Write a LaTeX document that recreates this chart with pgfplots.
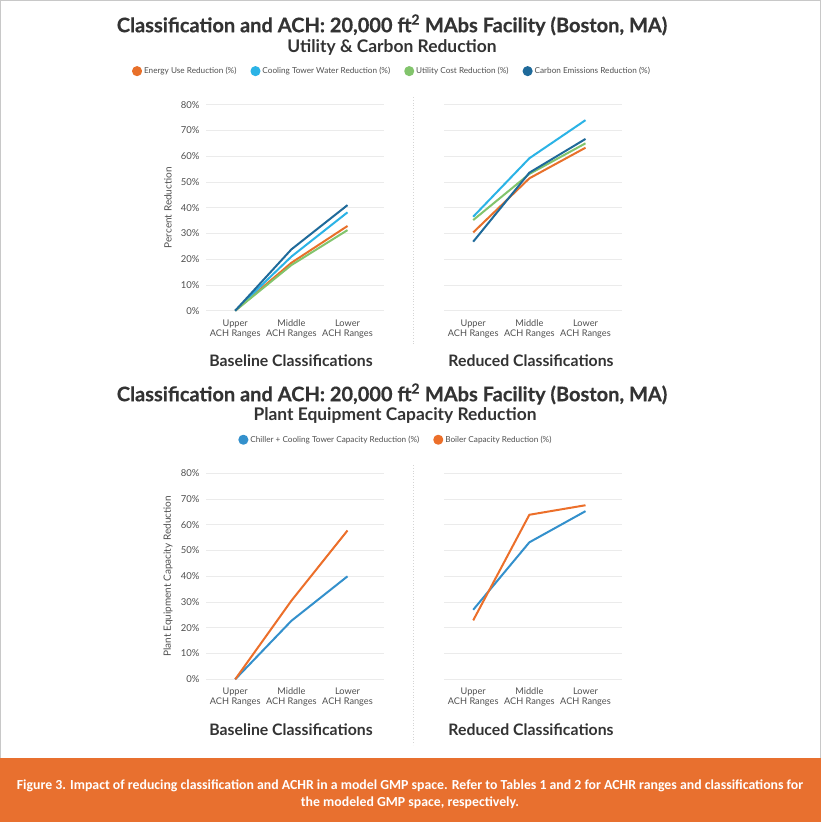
\documentclass[border=0pt]{standalone}
\usepackage{fontspec}
\setmainfont{Lato}
\newfontfamily\titlefont{Lato}[FakeBold=0.5]
\newfontfamily\capfont{Carlito}
\usepackage{pgfplots}
\pgfplotsset{compat=1.18}

\definecolor{energy}{HTML}{E8702A}
\definecolor{cooling}{HTML}{2BB3E6}
\definecolor{utility}{HTML}{82C46C}
\definecolor{carbon}{HTML}{1F6A9A}
\definecolor{chiller}{HTML}{3390CC}
\definecolor{boiler}{HTML}{EC6F2A}
\definecolor{capbar}{HTML}{E8702F}
\definecolor{gridgray}{HTML}{EBEBEB}
\definecolor{ticktext}{HTML}{505050}
\definecolor{titletext}{HTML}{333333}
\definecolor{bordergray}{HTML}{C8C8C8}

\pgfplotsset{
 panel/.style={
  scale only axis, width=178pt, height=206pt,
  xmin=-0.52, xmax=2.65, ymin=0, ymax=80,
  axis line style={draw=none},
  ymajorgrids, grid style={color=gridgray, line width=0.7pt},
  major tick length=0pt,
  xtick={0,1,2},
  xticklabels={{\strut Upper\\ACH Ranges}, {\strut Middle\\ACH Ranges}, {\strut Lower\\ACH Ranges}},
  xticklabel style={align=center, font=\fontsize{9.2}{10}\selectfont, text=ticktext, anchor=north, yshift=-5pt},
  ytick={0,10,...,80},
  yticklabel style={font=\fontsize{9.5}{10}\selectfont, text=ticktext, xshift=-3pt},
  /pgf/number format/assume math mode=true,
  clip=false,
  every axis plot/.append style={line width=2pt, line join=round, mark=none},
  legend image code/.code={\fill[##1] (2pt,0pt) circle (4pt);},
 },
 leftpanel/.style={panel,
  yticklabel={\pgfmathprintnumber{\tick}\%},
  every axis y label/.style={at={(axis description cs:-0.2135,0.5)}, rotate=90, anchor=center, font=\fontsize{10}{11}\selectfont, text=ticktext},
 },
 rightpanel/.style={panel, yticklabels={}},
}

\begin{document}
\begin{tikzpicture}
\useasboundingbox (0,0) rectangle (821pt,-822pt);
\fill[white] (0,0) rectangle (821pt,-822pt);
\fill[capbar] (0,-758pt) rectangle (821pt,-822pt);
\draw[bordergray, line width=1pt] (0.5pt,-758pt) -- (0.5pt,-0.5pt) -- (820.5pt,-0.5pt) -- (820.5pt,-758pt);

% ---- top panel titles
\node[font=\titlefont\bfseries\fontsize{20}{24}\selectfont, text=titletext] at (392pt,-25pt) {Classification and ACH: 20,000 ft\textsuperscript{2} MAbs Facility (Boston, MA)};
\node[font=\bfseries\fontsize{17.4}{20}\selectfont, text=titletext] at (392pt,-47pt) {Utility \& Carbon Reduction};

\begin{axis}[leftpanel, at={(206pt,-310.7pt)}, anchor=south west,
  ylabel={Percent Reduction},
  legend style={at={(axis description cs:1.045,1.163)}, anchor=center, draw=none, fill=none,
    legend columns=4, font=\fontsize{8.2}{9}\selectfont, text=ticktext,
    /tikz/every even column/.append style={column sep=12pt}},
  ]
\addplot[energy] coordinates {(0,0) (1,18.6) (2,32.9)};
\addlegendentry{Energy Use Reduction (\%)}
\addplot[cooling] coordinates {(0,0) (1,21.0) (2,38.2)};
\addlegendentry{Cooling Tower Water Reduction (\%)}
\addplot[utility] coordinates {(0,0) (1,17.7) (2,31.3)};
\addlegendentry{Utility Cost Reduction (\%)}
\addplot[carbon] coordinates {(0,0) (1,23.8) (2,41.0)};
\addlegendentry{Carbon Emissions Reduction (\%)}
\end{axis}

\begin{axis}[rightpanel, at={(444pt,-310.7pt)}, anchor=south west]
\addplot[energy] coordinates {(0,30.4) (1,51.4) (2,63.3)};
\addplot[cooling] coordinates {(0,36.5) (1,59.2) (2,74.0)};
\addplot[utility] coordinates {(0,35.2) (1,53.1) (2,65.0)};
\addplot[carbon] coordinates {(0,26.8) (1,53.6) (2,66.7)};
\end{axis}

\draw[gridgray!80!gray, line width=0.8pt, dotted] (413pt,-97pt) -- (413pt,-345pt);
\node[font=\bfseries\fontsize{15.8}{18}\selectfont, text=titletext] at (291pt,-361pt) {Baseline Classifications};
\node[font=\bfseries\fontsize{15.8}{18}\selectfont, text=titletext] at (531pt,-361pt) {Reduced Classifications};

% ---- bottom panel titles
\node[font=\titlefont\bfseries\fontsize{20}{24}\selectfont, text=titletext] at (392pt,-394pt) {Classification and ACH: 20,000 ft\textsuperscript{2} MAbs Facility (Boston, MA)};
\node[font=\bfseries\fontsize{17.4}{20}\selectfont, text=titletext] at (395pt,-415pt) {Plant Equipment Capacity Reduction};

\begin{axis}[leftpanel, at={(206pt,-679.3pt)}, anchor=south west,
  ylabel={Plant Equipment Capacity Reduction},
  legend style={at={(axis description cs:1.067,1.163)}, anchor=center, draw=none, fill=none,
    legend columns=2, font=\fontsize{8.2}{9}\selectfont, text=ticktext,
    /tikz/every even column/.append style={column sep=12pt}},
  ]
\addplot[chiller] coordinates {(0,0) (1,22.7) (2,40.0)};
\addlegendentry{Chiller + Cooling Tower Capacity Reduction (\%)}
\addplot[boiler] coordinates {(0,0) (1,30.5) (2,57.8)};
\addlegendentry{Boiler Capacity Reduction (\%)}
\end{axis}

\begin{axis}[rightpanel, at={(444pt,-679.3pt)}, anchor=south west]
\addplot[chiller] coordinates {(0,27.0) (1,53.2) (2,65.3)};
\addplot[boiler] coordinates {(0,22.9) (1,63.9) (2,67.6)};
\end{axis}

\draw[gridgray!80!gray, line width=0.8pt, dotted] (413pt,-465pt) -- (413pt,-745pt);
\node[font=\bfseries\fontsize{15.8}{18}\selectfont, text=titletext] at (291pt,-730pt) {Baseline Classifications};
\node[font=\bfseries\fontsize{15.8}{18}\selectfont, text=titletext] at (531pt,-730pt) {Reduced Classifications};

% ---- caption
\node[font=\capfont\bfseries\fontsize{13.8}{17}\selectfont, text=white, align=center] at (410pt,-794pt)
 {Figure 3. Impact of reducing classification and ACHR in a model GMP space. Refer to Tables 1 and 2 for ACHR ranges and classifications for\\
  the modeled GMP space, respectively.};
\end{tikzpicture}
\end{document}
